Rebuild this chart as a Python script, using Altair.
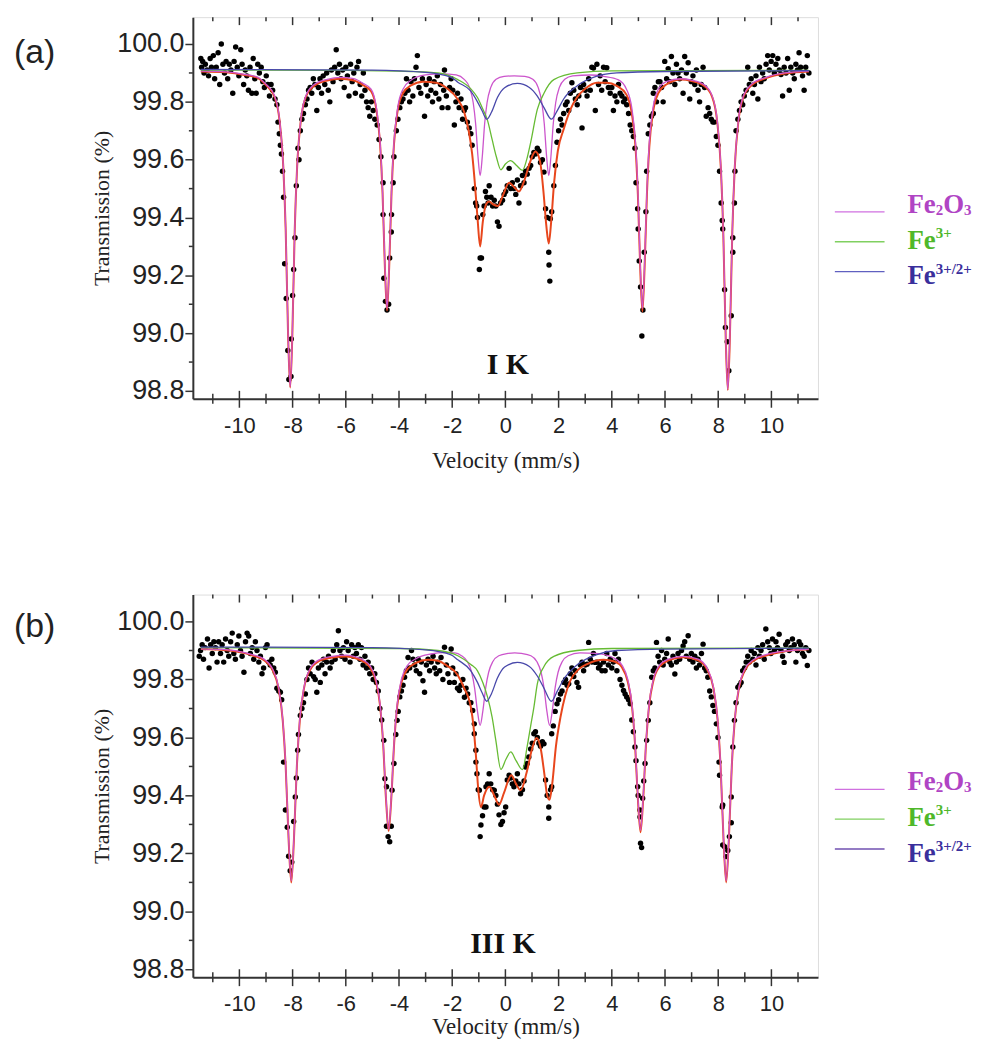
import altair as alt
import pandas as pd

# ---------------- axis ticks ----------------
X_TICKS = [-10, -8, -6, -4, -2, 0, 2, 4, 6, 8, 10]
X_MINOR = [-11, -9, -7, -5, -3, -1, 1, 3, 5, 7, 9, 11]
Y_TICKS = [98.8, 99.0, 99.2, 99.4, 99.6, 99.8, 100.0]
Y_MINOR = [98.9, 99.1, 99.3, 99.5, 99.7, 99.9]
X_DOMAIN = [-11.75, 11.75]
Y_DOMAIN = [98.773, 100.093]

# ---------------- panel (a): I K ----------------
PTS_A = [
    (-11.45, 99.95), (-11.42, 99.92), (-11.38, 99.94), (-11.33, 99.90), (-11.28, 99.93), (-11.22, 99.91),
    (-11.16, 99.89), (-11.1, 99.95), (-11.05, 99.92), (-10.98, 99.96), (-10.93, 99.88), (-10.87, 99.92),
    (-10.8, 99.97), (-10.74, 99.86), (-10.68, 100.0), (-10.62, 99.93), (-10.56, 99.90), (-10.5, 99.94),
    (-10.44, 99.88), (-10.38, 99.93), (-10.32, 99.91), (-10.25, 99.83), (-10.2, 99.94), (-10.14, 99.99),
    (-10.08, 99.92), (-10.02, 99.89), (-9.95, 99.98), (-9.9, 99.93), (-9.84, 99.86), (-9.78, 99.91),
    (-9.72, 99.89), (-9.66, 99.84), (-9.6, 99.92), (-9.53, 99.83), (-9.48, 99.95), (-9.42, 99.88),
    (-9.37, 99.83), (-9.31, 99.93), (-9.25, 99.90), (-9.18, 99.92), (-9.12, 99.87), (-9.06, 99.85),
    (-8.99, 99.89), (-8.93, 99.86), (-8.87, 99.82), (-8.81, 99.86), (-8.75, 99.84),
    (-8.66, 99.81), (-8.59, 99.79), (-8.55, 99.73), (-8.5, 99.69), (-8.46, 99.65), (-8.42, 99.62),
    (-8.38, 99.56), (-8.34, 99.47), (-8.3, 99.24), (-8.24, 99.12), (-8.18, 98.94), (-8.14, 98.84),
    (-8.06, 98.85), (-8.05, 98.98), (-8.0, 99.13), (-7.96, 99.22), (-7.91, 99.33), (-7.86, 99.51),
    (-7.8, 99.64), (-7.76, 99.60), (-7.71, 99.70), (-7.65, 99.74), (-7.59, 99.76), (-7.52, 99.79),
    (-7.46, 99.81), (-7.4, 99.84), (-7.34, 99.85),
    (-7.28, 99.83), (-7.22, 99.88), (-7.16, 99.86), (-7.09, 99.77), (-7.03, 99.85), (-6.97, 99.88),
    (-6.91, 99.83), (-6.85, 99.89), (-6.79, 99.86), (-6.72, 99.90), (-6.66, 99.84), (-6.6, 99.80),
    (-6.54, 99.91), (-6.48, 99.87), (-6.42, 99.92), (-6.36, 99.98), (-6.3, 99.90), (-6.24, 99.93),
    (-6.18, 99.88), (-6.12, 99.91), (-6.06, 99.85), (-6.0, 99.92), (-5.94, 99.89), (-5.88, 99.82),
    (-5.82, 99.93), (-5.76, 99.87), (-5.7, 99.90), (-5.64, 99.83), (-5.58, 99.92), (-5.52, 99.94),
    (-5.46, 99.86), (-5.4, 99.82), (-5.34, 99.90), (-5.28, 99.84), (-5.22, 99.80), (-5.16, 99.78),
    (-5.1, 99.75), (-5.04, 99.80),
    (-4.97, 99.77), (-4.91, 99.74), (-4.82, 99.72), (-4.75, 99.67), (-4.68, 99.61), (-4.6, 99.52),
    (-4.6, 99.41), (-4.57, 99.19), (-4.51, 99.11), (-4.45, 99.08), (-4.39, 99.10), (-4.35, 99.26),
    (-4.29, 99.35), (-4.28, 99.41), (-4.22, 99.52), (-4.19, 99.61), (-4.1, 99.70), (-4.04, 99.74),
    (-3.97, 99.78), (-3.91, 99.80), (-3.85, 99.81), (-3.78, 99.83),
    (-3.72, 99.88), (-3.66, 99.84), (-3.6, 99.80), (-3.55, 99.87), (-3.48, 99.82), (-3.42, 99.88),
    (-3.36, 99.92), (-3.31, 99.96), (-3.25, 99.85), (-3.18, 99.83), (-3.12, 99.88), (-3.04, 99.75),
    (-2.98, 99.86), (-2.92, 99.82), (-2.86, 99.88), (-2.8, 99.84), (-2.74, 99.80), (-2.68, 99.87),
    (-2.62, 99.83), (-2.56, 99.89), (-2.5, 99.81), (-2.44, 99.86), (-2.38, 99.78), (-2.32, 99.84),
    (-2.29, 99.91), (-2.22, 99.82), (-2.16, 99.78), (-2.1, 99.85), (-2.04, 99.88), (-1.98, 99.84),
    (-1.92, 99.72), (-1.86, 99.80), (-1.8, 99.83), (-1.74, 99.78), (-1.67, 99.81), (-1.61, 99.74),
    (-1.55, 99.77), (-1.5, 99.78), (-1.43, 99.73),
    (-1.36, 99.71), (-1.3, 99.69), (-1.25, 99.65), (-1.17, 99.50), (-1.12, 99.45), (-1.08, 99.44),
    (-1.05, 99.40), (-0.98, 99.22), (-0.95, 99.26), (-0.9, 99.26), (-0.85, 99.41), (-0.8, 99.44),
    (-0.75, 99.49), (-0.7, 99.47), (-0.65, 99.45), (-0.61, 99.51), (-0.54, 99.47), (-0.48, 99.44),
    (-0.42, 99.46), (-0.36, 99.44), (-0.3, 99.385), (-0.24, 99.37), (-0.18, 99.45), (-0.11, 99.46),
    (-0.05, 99.48), (0.01, 99.49), (0.07, 99.51), (0.14, 99.57), (0.2, 99.50), (0.26, 99.52),
    (0.32, 99.50), (0.39, 99.48), (0.45, 99.53), (0.51, 99.45), (0.57, 99.51), (0.64, 99.545),
    (0.7, 99.52), (0.76, 99.56), (0.82, 99.55), (0.89, 99.57), (0.95, 99.58), (1.01, 99.61),
    (1.07, 99.625), (1.13, 99.62), (1.2, 99.64), (1.26, 99.63), (1.32, 99.59), (1.39, 99.60),
    (1.45, 99.557), (1.51, 99.43), (1.57, 99.40), (1.63, 99.28), (1.64, 99.236), (1.67, 99.18),
    (1.69, 99.396), (1.74, 99.42), (1.82, 99.51), (1.88, 99.58), (1.94, 99.66), (2.0, 99.70),
    (2.07, 99.74), (2.13, 99.72), (2.19, 99.76), (2.26, 99.79), (2.32, 99.80), (2.38, 99.77),
    (2.44, 99.83), (2.5, 99.866), (2.57, 99.84), (2.63, 99.81), (2.7, 99.79), (2.76, 99.82),
    (2.82, 99.85), (2.88, 99.71), (2.94, 99.86), (3.0, 99.84), (3.07, 99.82), (3.13, 99.88),
    (3.19, 99.84), (3.25, 99.92), (3.31, 99.917), (3.38, 99.77), (3.44, 99.93), (3.5, 99.86),
    (3.56, 99.89), (3.62, 99.84), (3.69, 99.92), (3.75, 99.87), (3.81, 99.918), (3.87, 99.85),
    (3.94, 99.83), (4.0, 99.85), (4.06, 99.77), (4.12, 99.82), (4.19, 99.80), (4.25, 99.86),
    (4.31, 99.83), (4.38, 99.82), (4.44, 99.80), (4.5, 99.81), (4.56, 99.79),
    (4.63, 99.76), (4.69, 99.72), (4.75, 99.70), (4.81, 99.68), (4.87, 99.64), (4.91, 99.52),
    (4.97, 99.43), (4.99, 99.36), (5.03, 99.25), (5.08, 99.16), (5.13, 98.99), (5.17, 99.08),
    (5.22, 99.28), (5.28, 99.42), (5.31, 99.56), (5.37, 99.69), (5.43, 99.72), (5.49, 99.75),
    (5.56, 99.76), (5.56, 99.83),
    (5.62, 99.85), (5.68, 99.80), (5.75, 99.87), (5.81, 99.87), (5.87, 99.85), (5.93, 99.80),
    (5.99, 99.94), (6.06, 99.88), (6.12, 99.915), (6.18, 99.87), (6.24, 99.957), (6.3, 99.90),
    (6.37, 99.86), (6.43, 99.93), (6.49, 99.90), (6.55, 99.88), (6.62, 99.91), (6.68, 99.83),
    (6.74, 99.957), (6.8, 99.90), (6.87, 99.935), (6.93, 99.81), (6.99, 99.87), (7.05, 99.89),
    (7.12, 99.86), (7.18, 99.91), (7.24, 99.84), (7.3, 99.80), (7.36, 99.86), (7.43, 99.92),
    (7.49, 99.85),
    (7.55, 99.75), (7.62, 99.78), (7.68, 99.76), (7.74, 99.74), (7.8, 99.73), (7.86, 99.73),
    (7.93, 99.68), (7.99, 99.65), (8.05, 99.56), (8.11, 99.45), (8.15, 99.39), (8.17, 99.36),
    (8.24, 99.15), (8.27, 99.02), (8.34, 98.97), (8.4, 98.87), (8.49, 99.06), (8.55, 99.28),
    (8.55, 99.33), (8.61, 99.45), (8.63, 99.56), (8.67, 99.70), (8.74, 99.74), (8.8, 99.77),
    (8.86, 99.80), (8.92, 99.79), (8.98, 99.82), (9.05, 99.84), (9.11, 99.92),
    (9.17, 99.86), (9.24, 99.88), (9.3, 99.83), (9.36, 99.86), (9.42, 99.89), (9.49, 99.81),
    (9.55, 99.92), (9.61, 99.87), (9.67, 99.90), (9.73, 99.88), (9.8, 99.93), (9.86, 99.96),
    (9.92, 99.91), (9.99, 99.94), (10.05, 99.96), (10.11, 99.90), (10.17, 99.93), (10.24, 99.95),
    (10.3, 99.91), (10.36, 99.895), (10.42, 99.82), (10.48, 99.92), (10.55, 99.90), (10.61, 99.95),
    (10.67, 99.84), (10.73, 99.92), (10.8, 99.90), (10.86, 99.88), (10.92, 99.93), (10.98, 99.91),
    (11.04, 99.97), (11.1, 99.92), (11.17, 99.89), (11.23, 99.84), (11.29, 99.92), (11.35, 99.96),
    (11.41, 99.90),
]

FIT_A = [
    (-11.45, 99.905), (-10.5, 99.902), (-9.8, 99.893), (-9.3, 99.882), (-8.99, 99.857), (-8.69, 99.82),
    (-8.49, 99.735), (-8.35, 99.575), (-8.26, 99.357), (-8.17, 98.995), (-8.09, 98.812), (-8.01, 98.995),
    (-7.92, 99.357), (-7.83, 99.575), (-7.69, 99.735), (-7.49, 99.82), (-7.19, 99.855), (-6.7, 99.874),
    (-6.2, 99.88), (-5.7, 99.874), (-5.35, 99.858), (-5.05, 99.837), (-4.85, 99.772), (-4.71, 99.652),
    (-4.62, 99.488), (-4.53, 99.226), (-4.45, 99.078), (-4.37, 99.226), (-4.28, 99.488), (-4.19, 99.652),
    (-4.05, 99.77), (-3.85, 99.83), (-3.55, 99.857), (-3.1, 99.87), (-2.6, 99.866), (-2.2, 99.847),
    (-1.8, 99.81), (-1.55, 99.765), (-1.38, 99.70), (-1.25, 99.62), (-1.15, 99.52), (-1.05, 99.40),
    (-0.95, 99.30), (-0.85, 99.385), (-0.73, 99.445), (-0.61, 99.455), (-0.45, 99.445), (-0.28, 99.44),
    (-0.1, 99.475), (0.14, 99.52), (0.33, 99.505), (0.51, 99.49), (0.72, 99.53), (0.92, 99.59),
    (1.13, 99.628), (1.3, 99.595), (1.43, 99.49), (1.54, 99.37), (1.63, 99.31), (1.72, 99.385),
    (1.83, 99.52), (1.97, 99.63), (2.19, 99.705), (2.45, 99.775), (2.69, 99.815), (3.0, 99.845),
    (3.44, 99.866), (3.8, 99.866), (4.19, 99.855), (4.55, 99.825), (4.75, 99.76), (4.89, 99.645),
    (4.98, 99.48), (5.07, 99.22), (5.15, 99.075), (5.23, 99.22), (5.32, 99.48), (5.41, 99.645),
    (5.55, 99.765), (5.75, 99.83), (6.05, 99.86), (6.6, 99.877), (7.0, 99.872), (7.46, 99.856),
    (7.76, 99.82), (7.96, 99.733), (8.1, 99.57), (8.19, 99.35), (8.28, 98.99), (8.36, 98.803),
    (8.44, 98.99), (8.53, 99.35), (8.62, 99.57), (8.76, 99.733), (8.96, 99.82), (9.26, 99.858),
    (9.8, 99.882), (10.5, 99.898), (11.41, 99.905),
]

FE2O3_A = [
    (-11.45, 99.906), (-10.5, 99.904), (-9.8, 99.895), (-9.3, 99.885), (-8.99, 99.86), (-8.69, 99.824),
    (-8.49, 99.738), (-8.35, 99.578), (-8.26, 99.36), (-8.17, 98.998), (-8.09, 98.815), (-8.01, 98.998),
    (-7.92, 99.36), (-7.83, 99.578), (-7.69, 99.738), (-7.49, 99.824), (-7.19, 99.86), (-6.7, 99.878),
    (-6.2, 99.885), (-5.7, 99.88), (-5.35, 99.864), (-5.05, 99.844), (-4.85, 99.78), (-4.71, 99.66),
    (-4.62, 99.495), (-4.53, 99.233), (-4.45, 99.085), (-4.37, 99.233), (-4.28, 99.495), (-4.19, 99.66),
    (-4.05, 99.78), (-3.85, 99.844), (-3.55, 99.875), (-3.0, 99.893), (-2.4, 99.897), (-1.85, 99.893),
    (-1.55, 99.878), (-1.35, 99.85), (-1.21, 99.797), (-1.12, 99.725), (-1.03, 99.61), (-0.95, 99.545),
    (-0.87, 99.61), (-0.78, 99.725), (-0.69, 99.797), (-0.55, 99.85), (-0.35, 99.878), (-0.05, 99.888),
    (0.33, 99.89), (0.73, 99.888), (1.03, 99.878), (1.23, 99.85), (1.37, 99.797), (1.46, 99.725),
    (1.55, 99.61), (1.63, 99.545), (1.71, 99.61), (1.80, 99.725), (1.89, 99.797), (2.03, 99.85),
    (2.23, 99.878), (2.53, 99.89), (3.2, 99.893), (3.7, 99.888), (4.25, 99.876), (4.55, 99.844),
    (4.75, 99.78), (4.89, 99.66), (4.98, 99.495), (5.07, 99.233), (5.15, 99.085), (5.23, 99.233),
    (5.32, 99.495), (5.41, 99.66), (5.55, 99.78), (5.75, 99.844), (6.05, 99.87), (6.6, 99.88),
    (7.0, 99.875), (7.46, 99.86), (7.76, 99.824), (7.96, 99.737), (8.1, 99.575), (8.19, 99.355),
    (8.28, 98.995), (8.36, 98.806), (8.44, 98.995), (8.53, 99.355), (8.62, 99.575), (8.76, 99.737),
    (8.96, 99.824), (9.26, 99.862), (9.8, 99.885), (10.5, 99.9), (11.41, 99.906),
]

FE3_A = [
    (-11.45, 99.91), (-6.0, 99.909), (-3.5, 99.905), (-2.54, 99.90), (-1.79, 99.877), (-1.3, 99.845),
    (-1.05, 99.815), (-0.85, 99.775), (-0.67, 99.735), (-0.5, 99.67), (-0.34, 99.61), (-0.17, 99.565),
    (0.0, 99.585), (0.2, 99.597), (0.42, 99.58), (0.64, 99.563), (0.8, 99.60), (0.95, 99.66),
    (1.2, 99.774), (1.45, 99.83), (1.82, 99.877), (2.7, 99.90), (4.0, 99.907), (11.41, 99.909),
]

FE32_A = [
    (-11.45, 99.912), (-5.0, 99.91), (-3.0, 99.902), (-2.04, 99.885), (-1.79, 99.868), (-1.3, 99.837),
    (-1.05, 99.80), (-0.88, 99.77), (-0.7, 99.74), (-0.52, 99.765), (-0.3, 99.815), (-0.03, 99.849),
    (0.45, 99.864), (0.9, 99.85), (1.2, 99.82), (1.45, 99.78), (1.73, 99.74), (1.95, 99.77),
    (2.19, 99.81), (2.69, 99.855), (3.44, 99.889), (4.19, 99.90), (6.0, 99.905), (11.41, 99.908),
]

# ---------------- panel (b): III K ----------------
PTS_B = [
    (-11.51, 99.88), (-11.46, 99.90), (-11.4, 99.92), (-11.35, 99.87), (-11.29, 99.91), (-11.2, 99.94),
    (-11.14, 99.84), (-11.08, 99.92), (-11.02, 99.89), (-10.96, 99.93), (-10.9, 99.91), (-10.84, 99.86),
    (-10.78, 99.93), (-10.71, 99.89), (-10.65, 99.92), (-10.59, 99.86), (-10.52, 99.94), (-10.46, 99.90),
    (-10.4, 99.88), (-10.33, 99.93), (-10.27, 99.96), (-10.21, 99.89), (-10.15, 99.87), (-10.08, 99.92),
    (-10.02, 99.95), (-9.96, 99.90), (-9.9, 99.88), (-9.83, 99.825), (-9.77, 99.93), (-9.71, 99.96),
    (-9.65, 99.95), (-9.59, 99.89), (-9.52, 99.91), (-9.46, 99.87), (-9.4, 99.93), (-9.34, 99.90),
    (-9.27, 99.86), (-9.21, 99.88), (-9.15, 99.82), (-9.09, 99.84), (-9.02, 99.91), (-8.96, 99.92),
    (-8.9, 99.86), (-8.84, 99.85), (-8.78, 99.87), (-8.71, 99.84), (-8.65, 99.825),
    (-8.59, 99.77), (-8.52, 99.76), (-8.46, 99.756), (-8.41, 99.73), (-8.34, 99.515), (-8.27, 99.35),
    (-8.2, 99.29), (-8.15, 99.19), (-8.09, 99.14), (-8.03, 99.17), (-7.96, 99.31), (-7.9, 99.395),
    (-7.86, 99.46), (-7.81, 99.556), (-7.78, 99.61), (-7.71, 99.676), (-7.65, 99.70), (-7.59, 99.72),
    (-7.52, 99.75), (-7.46, 99.80), (-7.4, 99.84), (-7.34, 99.82),
    (-7.27, 99.86), (-7.21, 99.81), (-7.15, 99.80), (-7.09, 99.756), (-7.03, 99.84), (-6.96, 99.79),
    (-6.9, 99.85), (-6.84, 99.87), (-6.78, 99.82), (-6.72, 99.86), (-6.65, 99.88), (-6.59, 99.84),
    (-6.53, 99.86), (-6.47, 99.90), (-6.4, 99.87), (-6.34, 99.92), (-6.28, 99.968), (-6.22, 99.90),
    (-6.16, 99.88), (-6.09, 99.91), (-6.03, 99.87), (-5.97, 99.93), (-5.91, 99.90), (-5.84, 99.86),
    (-5.78, 99.92), (-5.72, 99.88), (-5.66, 99.91), (-5.6, 99.89), (-5.53, 99.92), (-5.47, 99.87),
    (-5.41, 99.91), (-5.35, 99.85), (-5.28, 99.88), (-5.22, 99.84), (-5.16, 99.86), (-5.1, 99.82),
    (-5.03, 99.84), (-4.97, 99.80),
    (-4.91, 99.82), (-4.85, 99.79), (-4.78, 99.76), (-4.72, 99.70), (-4.65, 99.66), (-4.57, 99.59),
    (-4.53, 99.458), (-4.47, 99.43), (-4.47, 99.294), (-4.41, 99.258), (-4.35, 99.24), (-4.29, 99.294),
    (-4.26, 99.418), (-4.19, 99.51), (-4.12, 99.61), (-4.07, 99.659), (-4.03, 99.69), (-3.97, 99.74),
    (-3.91, 99.76), (-3.85, 99.78), (-3.79, 99.808), (-3.72, 99.83),
    (-3.66, 99.876), (-3.6, 99.84), (-3.53, 99.90), (-3.47, 99.87), (-3.41, 99.85), (-3.35, 99.83),
    (-3.28, 99.87), (-3.22, 99.82), (-3.16, 99.86), (-3.1, 99.796), (-3.04, 99.756), (-2.97, 99.85),
    (-2.91, 99.87), (-2.85, 99.83), (-2.79, 99.86), (-2.72, 99.88), (-2.66, 99.84), (-2.6, 99.82),
    (-2.54, 99.86), (-2.47, 99.83), (-2.42, 99.876), (-2.35, 99.80), (-2.29, 99.911), (-2.22, 99.85),
    (-2.16, 99.82), (-2.1, 99.79), (-2.04, 99.905), (-1.98, 99.84), (-1.92, 99.79), (-1.86, 99.82),
    (-1.8, 99.77), (-1.73, 99.762), (-1.67, 99.78), (-1.6, 99.80), (-1.54, 99.739), (-1.48, 99.77),
    (-1.42, 99.75),
    (-1.36, 99.72), (-1.3, 99.72), (-1.23, 99.693), (-1.17, 99.647), (-1.17, 99.613), (-1.11, 99.556),
    (-1.11, 99.515), (-1.07, 99.475), (-1.02, 99.42), (-0.98, 99.418), (-0.95, 99.258), (-0.92, 99.298),
    (-0.86, 99.33), (-0.8, 99.36), (-0.73, 99.43), (-0.73, 99.36), (-0.67, 99.44), (-0.61, 99.475),
    (-0.55, 99.44), (-0.48, 99.42), (-0.42, 99.418), (-0.36, 99.40), (-0.3, 99.37), (-0.24, 99.333),
    (-0.17, 99.30), (-0.11, 99.31), (-0.05, 99.34), (0.01, 99.36), (0.07, 99.453), (0.14, 99.47),
    (0.2, 99.46), (0.26, 99.44), (0.32, 99.43), (0.39, 99.45), (0.45, 99.475), (0.51, 99.44),
    (0.57, 99.406), (0.64, 99.42), (0.7, 99.45), (0.76, 99.498), (0.82, 99.51), (0.88, 99.533),
    (0.95, 99.56), (1.01, 99.58), (1.07, 99.613), (1.13, 99.62), (1.2, 99.60), (1.26, 99.58),
    (1.32, 99.57), (1.39, 99.585), (1.45, 99.578), (1.51, 99.453), (1.57, 99.40), (1.63, 99.36),
    (1.63, 99.321), (1.7, 99.42), (1.74, 99.43), (1.74, 99.613), (1.8, 99.64), (1.87, 99.69),
    (1.94, 99.716), (2.0, 99.73), (2.07, 99.75), (2.13, 99.76), (2.2, 99.79), (2.26, 99.80),
    (2.32, 99.78), (2.38, 99.785), (2.44, 99.82), (2.5, 99.84), (2.57, 99.81), (2.63, 99.83),
    (2.69, 99.79), (2.75, 99.773), (2.82, 99.85), (2.88, 99.86), (2.94, 99.83), (3.0, 99.85),
    (3.07, 99.853), (3.13, 99.928), (3.19, 99.87), (3.25, 99.86), (3.31, 99.89), (3.38, 99.859),
    (3.44, 99.86), (3.5, 99.84), (3.56, 99.85), (3.63, 99.83), (3.69, 99.86), (3.75, 99.83),
    (3.81, 99.89), (3.87, 99.85), (3.94, 99.87), (4.0, 99.84), (4.06, 99.86), (4.12, 99.89),
    (4.19, 99.83), (4.25, 99.87), (4.31, 99.80), (4.38, 99.78), (4.44, 99.762), (4.5, 99.75),
    (4.56, 99.74), (4.63, 99.73),
    (4.69, 99.716), (4.75, 99.66), (4.81, 99.62), (4.87, 99.567), (4.91, 99.52), (4.97, 99.43),
    (4.99, 99.40), (5.06, 99.35), (5.06, 99.326), (5.08, 99.235), (5.12, 99.22), (5.16, 99.39),
    (5.2, 99.45), (5.25, 99.51), (5.31, 99.59), (5.37, 99.659), (5.43, 99.72), (5.5, 99.808),
    (5.56, 99.83), (5.62, 99.84),
    (5.68, 99.928), (5.74, 99.88), (5.8, 99.86), (5.87, 99.90), (5.93, 99.85), (5.99, 99.87),
    (6.06, 99.89), (6.12, 99.94), (6.18, 99.86), (6.24, 99.85), (6.3, 99.88), (6.37, 99.819),
    (6.43, 99.86), (6.49, 99.89), (6.55, 99.87), (6.62, 99.90), (6.68, 99.916), (6.74, 99.93),
    (6.8, 99.88), (6.87, 99.951), (6.93, 99.87), (6.99, 99.89), (7.05, 99.86), (7.12, 99.88),
    (7.18, 99.84), (7.24, 99.87), (7.3, 99.85), (7.37, 99.89), (7.43, 99.922), (7.49, 99.84),
    (7.55, 99.83), (7.61, 99.808), (7.68, 99.76), (7.74, 99.74), (7.8, 99.71), (7.86, 99.69),
    (7.93, 99.647), (7.99, 99.60), (8.03, 99.515), (8.05, 99.47), (8.15, 99.36), (8.17, 99.367),
    (8.17, 99.229), (8.24, 99.223), (8.3, 99.189), (8.36, 99.21), (8.42, 99.258), (8.49, 99.306),
    (8.49, 99.395), (8.55, 99.567), (8.61, 99.659), (8.67, 99.72), (8.74, 99.773), (8.8, 99.78),
    (8.86, 99.79), (8.92, 99.83), (8.99, 99.84), (9.05, 99.86),
    (9.11, 99.88), (9.17, 99.86), (9.24, 99.90), (9.3, 99.87), (9.36, 99.89), (9.42, 99.85),
    (9.49, 99.91), (9.55, 99.88), (9.61, 99.90), (9.67, 99.92), (9.73, 99.87), (9.79, 99.974),
    (9.86, 99.93), (9.92, 99.91), (9.98, 99.89), (10.04, 99.94), (10.11, 99.90), (10.17, 99.93),
    (10.23, 99.91), (10.29, 99.956), (10.36, 99.90), (10.42, 99.88), (10.48, 99.859), (10.54, 99.92),
    (10.61, 99.93), (10.67, 99.90), (10.73, 99.91), (10.79, 99.94), (10.86, 99.92), (10.92, 99.86),
    (10.98, 99.90), (11.04, 99.93), (11.1, 99.92), (11.17, 99.89), (11.23, 99.88), (11.29, 99.91),
    (11.35, 99.848), (11.41, 99.90),
]

FIT_B = [
    (-11.45, 99.905), (-10.5, 99.901), (-9.8, 99.891), (-9.45, 99.881), (-9.1, 99.868), (-8.75, 99.832),
    (-8.53, 99.77), (-8.37, 99.658), (-8.26, 99.5), (-8.15, 99.248), (-8.05, 99.10), (-7.95, 99.248),
    (-7.84, 99.5), (-7.73, 99.658), (-7.57, 99.77), (-7.35, 99.832), (-7.0, 99.864), (-6.5, 99.876),
    (-6.0, 99.879), (-5.6, 99.872), (-5.3, 99.86), (-5.09, 99.842), (-4.87, 99.794), (-4.71, 99.708),
    (-4.6, 99.584), (-4.49, 99.389), (-4.39, 99.277), (-4.29, 99.389), (-4.18, 99.584), (-4.07, 99.706),
    (-3.91, 99.79), (-3.69, 99.835), (-3.34, 99.858), (-2.92, 99.868), (-2.54, 99.865), (-2.2, 99.848),
    (-1.79, 99.815), (-1.55, 99.77), (-1.3, 99.705), (-1.2, 99.64), (-1.11, 99.54), (-1.02, 99.42),
    (-0.92, 99.36), (-0.8, 99.40), (-0.61, 99.43), (-0.42, 99.40), (-0.24, 99.368), (-0.05, 99.41),
    (0.22, 99.47), (0.4, 99.44), (0.57, 99.418), (0.8, 99.48), (1.0, 99.56), (1.17, 99.598),
    (1.33, 99.56), (1.47, 99.47), (1.57, 99.40), (1.66, 99.385), (1.76, 99.44), (1.9, 99.57),
    (2.07, 99.67), (2.25, 99.745), (2.44, 99.796), (2.75, 99.835), (3.07, 99.853), (3.69, 99.868),
    (4.1, 99.862), (4.38, 99.842), (4.6, 99.792), (4.76, 99.706), (4.87, 99.582), (4.98, 99.388),
    (5.08, 99.273), (5.18, 99.388), (5.29, 99.584), (5.4, 99.708), (5.56, 99.795), (5.78, 99.843),
    (6.13, 99.866), (6.7, 99.877), (7.25, 99.866), (7.6, 99.832), (7.82, 99.77), (7.98, 99.658),
    (8.09, 99.5), (8.2, 99.248), (8.30, 99.10), (8.40, 99.248), (8.51, 99.5), (8.62, 99.658),
    (8.78, 99.77), (9.0, 99.832), (9.35, 99.866), (9.8, 99.883), (10.5, 99.897), (11.41, 99.904),
]

FE2O3_B = [
    (-11.45, 99.906), (-10.5, 99.903), (-9.8, 99.893), (-9.45, 99.884), (-9.1, 99.872), (-8.75, 99.836),
    (-8.53, 99.774), (-8.37, 99.662), (-8.26, 99.503), (-8.15, 99.252), (-8.05, 99.105), (-7.95, 99.252),
    (-7.84, 99.503), (-7.73, 99.662), (-7.57, 99.774), (-7.35, 99.836), (-7.0, 99.868), (-6.5, 99.88),
    (-6.0, 99.884), (-5.6, 99.877), (-5.3, 99.865), (-5.09, 99.848), (-4.87, 99.80), (-4.71, 99.714),
    (-4.6, 99.59), (-4.49, 99.395), (-4.39, 99.283), (-4.29, 99.395), (-4.18, 99.59), (-4.07, 99.714),
    (-3.91, 99.80), (-3.69, 99.848), (-3.34, 99.873), (-2.8, 99.888), (-2.3, 99.893), (-1.9, 99.892),
    (-1.65, 99.882), (-1.43, 99.862), (-1.27, 99.825), (-1.16, 99.772), (-1.05, 99.69), (-0.95, 99.642),
    (-0.85, 99.69), (-0.74, 99.772), (-0.63, 99.825), (-0.47, 99.862), (-0.25, 99.882), (0.1, 99.89),
    (0.35, 99.892), (0.6, 99.89), (0.96, 99.882), (1.18, 99.862), (1.34, 99.825), (1.45, 99.772),
    (1.56, 99.69), (1.66, 99.642), (1.76, 99.69), (1.87, 99.772), (1.98, 99.825), (2.14, 99.862),
    (2.36, 99.882), (2.8, 99.892), (3.4, 99.89), (4.03, 99.876), (4.38, 99.85), (4.6, 99.80),
    (4.76, 99.714), (4.87, 99.59), (4.98, 99.395), (5.08, 99.28), (5.18, 99.395), (5.29, 99.59),
    (5.4, 99.714), (5.56, 99.80), (5.78, 99.848), (6.13, 99.87), (6.7, 99.88), (7.25, 99.87),
    (7.6, 99.836), (7.82, 99.774), (7.98, 99.662), (8.09, 99.503), (8.2, 99.252), (8.30, 99.105),
    (8.40, 99.252), (8.51, 99.503), (8.62, 99.662), (8.78, 99.774), (9.0, 99.836), (9.35, 99.87),
    (9.8, 99.886), (10.5, 99.898), (11.41, 99.905),
]

FE3_B = [
    (-11.45, 99.91), (-4.0, 99.907), (-2.54, 99.90), (-1.79, 99.882), (-1.3, 99.852), (-1.05, 99.83),
    (-0.85, 99.79), (-0.67, 99.739), (-0.5, 99.67), (-0.36, 99.59), (-0.17, 99.49), (0.02, 99.525),
    (0.2, 99.55), (0.4, 99.52), (0.64, 99.489), (0.82, 99.57), (0.95, 99.64), (1.07, 99.704),
    (1.2, 99.785), (1.45, 99.845), (1.82, 99.88), (2.69, 99.90), (4.0, 99.907), (11.41, 99.909),
]

FE32_B = [
    (-11.45, 99.912), (-5.0, 99.91), (-3.0, 99.902), (-2.04, 99.885), (-1.79, 99.868), (-1.3, 99.83),
    (-1.05, 99.79), (-0.88, 99.755), (-0.7, 99.725), (-0.52, 99.752), (-0.3, 99.805), (-0.03, 99.843),
    (0.45, 99.859), (0.9, 99.845), (1.2, 99.812), (1.45, 99.77), (1.73, 99.725), (1.95, 99.76),
    (2.19, 99.80), (2.69, 99.85), (3.44, 99.886), (4.19, 99.90), (6.0, 99.905), (11.41, 99.908),
]

# ---------------- styling ----------------
C_FIT = "#e8461c"
C_MAG = "#cc55cc"
C_GRN = "#66bb33"
C_BLU = "#4848aa"
C_TXT_MAG = "#b044c4"
C_TXT_GRN = "#4fb82a"
C_TXT_BLU = "#3a2f9c"
FRAME = "#333333"
SERIF = "Liberation Serif"
SANS = "Liberation Sans"

W = 629


def df(pairs):
    return pd.DataFrame(pairs, columns=["v", "T"])


def one():
    return pd.DataFrame({"a": [0]})


def make_panel(pts, fit, mag, grn, blu, tag, tag_y, sample, sample_x, sample_y, H, leg_blu_line, xtitle_pad):
    xs = alt.Scale(domain=X_DOMAIN, nice=False, zero=False)
    ys = alt.Scale(domain=Y_DOMAIN, nice=False, zero=False)
    X = alt.X("v:Q", scale=xs, title="Velocity (mm/s)",
              axis=alt.Axis(values=X_TICKS, labelExpr="'' + datum.value", ticks=False, tickSize=0,
                            labelFont=SANS, labelFontSize=22, labelPadding=17, labelColor="#222",
                            titleFont=SERIF, titleFontSize=23, titleFontWeight="normal",
                            titlePadding=xtitle_pad, titleColor="#222", grid=False,
                            domainColor=FRAME, domainWidth=2))
    Y = alt.Y("T:Q", scale=ys, title="Transmission (%)",
              axis=alt.Axis(values=Y_TICKS, format=".1f", tickSize=8, tickWidth=1.5, tickColor=FRAME,
                            labelFont=SANS, labelFontSize=27, labelPadding=1, labelColor="#222",
                            titleFont=SERIF, titleFontSize=22, titleFontWeight="normal",
                            titlePadding=3, titleColor="#222", grid=False,
                            domainColor=FRAME, domainWidth=2))

    points = alt.Chart(df(pts)).mark_circle(size=30, color="black", opacity=1).encode(x=X, y=Y)
    line_fit = alt.Chart(df(fit)).mark_line(color=C_FIT, strokeWidth=2, interpolate="monotone").encode(x=X, y=Y)
    line_mag = alt.Chart(df(mag)).mark_line(color=C_MAG, strokeWidth=1.3, interpolate="monotone").encode(x=X, y=Y)
    line_grn = alt.Chart(df(grn)).mark_line(color=C_GRN, strokeWidth=1.3, interpolate="monotone").encode(x=X, y=Y)
    line_blu = alt.Chart(df(blu)).mark_line(color=C_BLU, strokeWidth=1.3, interpolate="monotone").encode(x=X, y=Y)

    major = pd.DataFrame({"v": X_TICKS})
    minor = pd.DataFrame({"v": X_MINOR})
    ymin = pd.DataFrame({"T": Y_MINOR})
    ticks = [
        alt.Chart(major).mark_rule(color=FRAME, strokeWidth=1.5).encode(x=X, y=alt.value(0), y2=alt.value(8)),
        alt.Chart(minor).mark_rule(color=FRAME, strokeWidth=1.5).encode(x=X, y=alt.value(0), y2=alt.value(4)),
        alt.Chart(major).mark_rule(color=FRAME, strokeWidth=1.5).encode(x=X, y=alt.value(H - 8), y2=alt.value(H + 9)),
        alt.Chart(minor).mark_rule(color=FRAME, strokeWidth=1.5).encode(x=X, y=alt.value(H - 5), y2=alt.value(H + 5)),
        alt.Chart(ymin).mark_rule(color=FRAME, strokeWidth=1.5).encode(y=Y, x=alt.value(-4), x2=alt.value(0)),
    ]

    def txt(s, x, y, size, color, weight="bold", font=SERIF, align="left", baseline="alphabetic"):
        return alt.Chart(one()).mark_text(text=s, font=font, fontSize=size, fontWeight=weight, color=color,
                                          align=align, baseline=baseline).encode(
            x=alt.value(x), y=alt.value(y))

    def seg(y, color):
        return alt.Chart(one()).mark_rule(color=color, strokeWidth=1.3).encode(
            x=alt.value(646), x2=alt.value(696), y=alt.value(y))

    lx = 719
    legend = [
        seg(196, "#d070e0"), seg(226, "#80d060"), seg(256, leg_blu_line),
        txt("Fe", lx, 197, 27, C_TXT_MAG), txt("2", lx + 28.5, 199, 15, C_TXT_MAG),
        txt("O", lx + 36, 197, 27, C_TXT_MAG), txt("3", lx + 57, 199, 15, C_TXT_MAG),
        txt("Fe", lx, 233, 27, C_TXT_GRN), txt("3+", lx + 28.5, 222, 15, C_TXT_GRN),
        txt("Fe", lx, 269, 27, C_TXT_BLU), txt("3+/2+", lx + 28.5, 258, 15, C_TXT_BLU),
    ]
    labels = [
        txt(tag, -180, tag_y, 34, "#222", weight="normal", font=SANS, baseline="middle"),
        txt(sample, sample_x, sample_y, 30, "#111", align="center"),
    ]

    return alt.layer(points, line_fit, line_mag, line_grn, line_blu, *ticks, *legend, *labels).properties(
        width=W, height=H)


panel_a = make_panel(PTS_A, FIT_A, FE2O3_A, FE3_A, FE32_A, "(a)", 36, "I K", 317, 359, 384, "#6060c0", 13)
panel_b = make_panel(PTS_B, FIT_B, FE2O3_B, FE3_B, FE32_B, "(b)", 33, "III K", 312, 361, 385, "#7050b0", 1)

chart = alt.vconcat(panel_a, panel_b, spacing=197, bounds="flush").properties(
    padding={"left": 5, "top": 4, "right": 0, "bottom": 0}
).configure_view(stroke=FRAME, strokeWidth=2).configure(background="white")

chart.save("out.html", embed_options={"renderer": "svg", "actions": False})
